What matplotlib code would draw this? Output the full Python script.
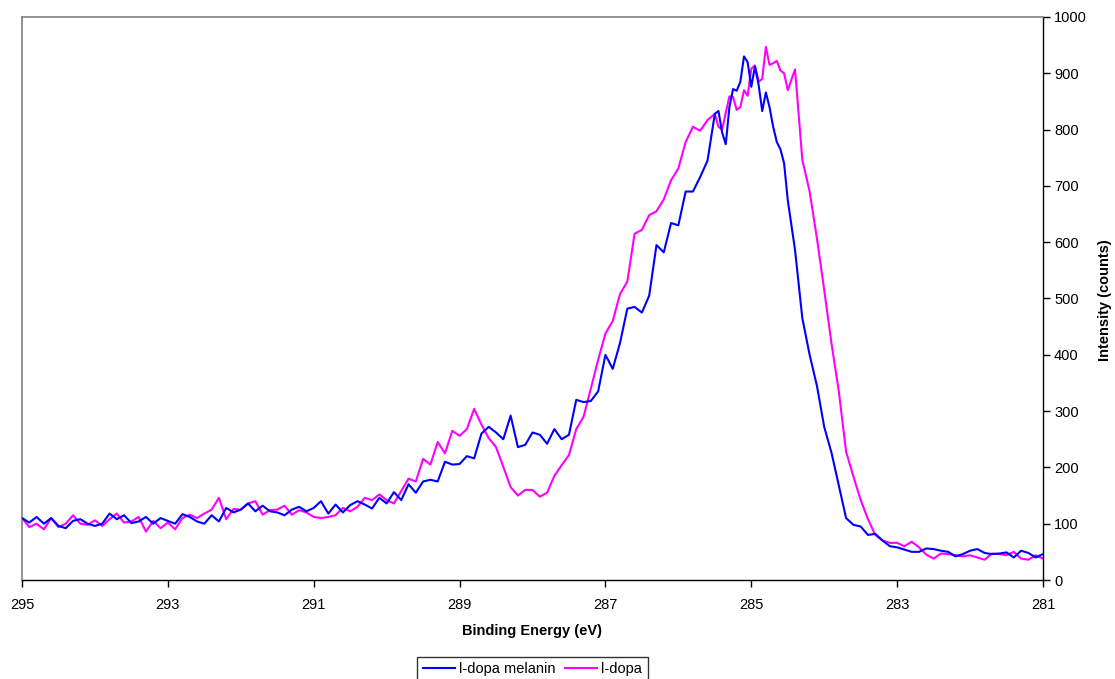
import numpy as np
import matplotlib
matplotlib.use("Agg")
import matplotlib.pyplot as plt

plt.rcParams['font.family'] = ['Liberation Sans', 'DejaVu Sans']

# Binding energy grid (eV): 0.1 eV steps, finer 0.05 eV steps near the peak
energy = np.concatenate([
    np.linspace(295.0, 285.6, 95),
    np.linspace(285.5, 284.5, 21),
    np.linspace(284.4, 281.0, 35),
])

ldopa_melanin = [
    110, 102, 112, 100, 110, 96, 92, 105, 108, 100,
    96, 100, 118, 108, 115, 101, 104, 112, 100, 110,
    105, 100, 117, 112, 104, 100, 115, 104, 128, 120,
    125, 136, 122, 132, 122, 120, 115, 125, 130, 122,
    128, 140, 118, 134, 120, 133, 140, 134, 127, 146,
    136, 156, 142, 170, 155, 175, 178, 175, 210,
    205, 206, 220, 216, 260, 272, 262, 250, 292, 236,
    240, 262, 258, 242, 268, 250, 258, 320, 316, 318,
    335, 400, 375, 421,
    482, 485, 475, 505, 595, 582, 634, 630, 690, 690, 716, 745,
    828, 833, 795, 774, 840, 872, 869, 885, 930, 920,
    876, 912, 880, 833, 866, 840, 805, 778, 765, 740, 675,
    586, 465, 400, 345, 272, 226, 168, 110, 98, 95,
    80, 82, 70, 60, 58, 54, 50, 50, 56, 55,
    52, 50, 42, 46, 52, 55, 48, 46, 47, 49,
    40, 52, 48, 40, 46,
]

ldopa = [
    110, 94, 100, 90, 110, 94, 100, 115, 100, 98,
    106, 96, 108, 118, 102, 104, 112, 86, 105, 92,
    102, 90, 110, 116, 110, 118, 125, 146, 108, 126,
    125, 136, 140, 116, 124, 125, 132, 116, 124, 120,
    112, 110, 112, 115, 128, 122, 130, 146, 142, 152,
    142, 136, 158, 180, 175, 215, 205, 245, 225,
    265, 256, 268, 304, 276, 252, 236, 201, 165, 150,
    160, 160, 148, 155, 185, 204, 222, 268, 290, 340,
    391, 438, 460, 508,
    530, 615, 622, 648, 655, 676, 710, 731, 778, 805, 798, 817,
    828, 805, 800, 830, 859, 858, 835, 840, 870, 860,
    908, 914, 885, 890, 947, 915, 918, 922, 905, 900, 870,
    907, 746, 690, 607, 515, 420, 335, 228, 184, 142,
    108, 80, 70, 66, 66, 60, 68, 58, 45, 38,
    47, 46, 44, 42, 44, 40, 36, 47, 46, 44,
    50, 38, 36, 44, 38,
]

series_names = ["l-dopa melanin", "l-dopa"]
x_ticks = [295, 293, 291, 289, 287, 285, 283, 281]
y_ticks = list(range(0, 1001, 100))

fig = plt.figure(figsize=(11.15, 6.79), dpi=100)
ax = fig.add_axes([22/1115, 1-580/679, (1043-22)/1115, (580-17)/679])

ax.plot(energy, ldopa_melanin, color='#0000FF', lw=1.5, label=series_names[0],
        zorder=3, solid_joinstyle='round')
ax.plot(energy, ldopa, color='#FF00FF', lw=1.5, label=series_names[1],
        zorder=2, solid_joinstyle='round')

ax.set_xlim(295, 281)
ax.set_ylim(0, 1000)
ax.set_xticks(x_ticks)
ax.set_xticklabels([str(t) for t in x_ticks])
ax.set_yticks(y_ticks)
ax.yaxis.tick_right()
ax.yaxis.set_label_position('right')
ax.tick_params(axis='both', direction='out', length=5, width=1, colors='black',
               labelsize=10.5)
ax.tick_params(axis='x', pad=8)
ax.tick_params(axis='y', pad=3)

for side in ['left', 'top']:
    ax.spines[side].set_color('#808080')
    ax.spines[side].set_linewidth(1.2)
for side in ['right', 'bottom']:
    ax.spines[side].set_color('black')
    ax.spines[side].set_linewidth(1.0)

ax.set_xlabel('Binding Energy (eV)', fontsize=10.5, fontweight='bold',
              va='center')
ax.xaxis.set_label_coords((532 - 22) / 1021, -(631 - 580) / 563)
ax.set_ylabel('Intensity (counts)', fontsize=10.5, fontweight='bold',
              rotation=90, va='center', ha='center')
ax.yaxis.set_label_coords((1105 - 22) / 1021, (580 - 300) / 563)

leg = ax.legend(loc='upper center', bbox_to_anchor=(0.5, -0.136), ncol=2,
                frameon=True, fancybox=False, fontsize=10.5, borderpad=0.4,
                handlelength=2.2, handletextpad=0.3, columnspacing=0.6,
                borderaxespad=0)
leg.get_frame().set_edgecolor('black')
leg.get_frame().set_linewidth(1.0)

fig.savefig('out.png', dpi=100)
